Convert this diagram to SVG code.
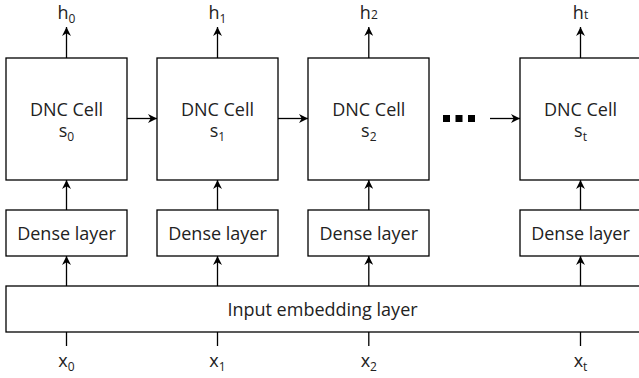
<svg xmlns="http://www.w3.org/2000/svg" width="639" height="378" viewBox="0 0 639 378">
<style>
.box{fill:#fff;stroke:#000;stroke-width:1.3}
.t{font-family:"Open Sans","Noto Sans","DejaVu Sans",sans-serif;font-size:18px;fill:#222;text-anchor:middle}
.sub{font-size:12px}
.ln{fill:none;stroke:#000;stroke-width:1.3}
</style>
<defs>
<marker id="ah" viewBox="0 0 10 10" refX="10" refY="5" markerWidth="9" markerHeight="9" markerUnits="userSpaceOnUse" orient="auto">
<path d="M0,0 L10,5 L0,10 L3,5 z" fill="#000"/>
</marker>
</defs>
<rect width="639" height="378" fill="#fff"/>
<g id="connectors">
<path class="ln" d="M66.5,58 V27" marker-end="url(#ah)"/>
<path class="ln" d="M217.5,58 V27" marker-end="url(#ah)"/>
<path class="ln" d="M368.8,58 V27" marker-end="url(#ah)"/>
<path class="ln" d="M580.5,58 V27" marker-end="url(#ah)"/>
<path class="ln" d="M66.5,210 V180" marker-end="url(#ah)"/>
<path class="ln" d="M217.5,210 V180" marker-end="url(#ah)"/>
<path class="ln" d="M368.8,210 V180" marker-end="url(#ah)"/>
<path class="ln" d="M580.5,210 V180" marker-end="url(#ah)"/>
<path class="ln" d="M66.5,286 V256" marker-end="url(#ah)"/>
<path class="ln" d="M217.5,286 V256" marker-end="url(#ah)"/>
<path class="ln" d="M368.8,286 V256" marker-end="url(#ah)"/>
<path class="ln" d="M580.5,286 V256" marker-end="url(#ah)"/>
<path class="ln" d="M127,118.5 H157"  marker-end="url(#ah)"/>
<path class="ln" d="M278,118.5 H308"  marker-end="url(#ah)"/>
<path class="ln" d="M490,118.5 H520"  marker-end="url(#ah)"/>
<path class="ln" d="M66.5,332 V346"/>
<path class="ln" d="M217.5,332 V346"/>
<path class="ln" d="M368.8,332 V346"/>
<path class="ln" d="M580.5,332 V346"/>
</g>
<g id="dots">
<rect x="443" y="115" width="7" height="7" fill="#000"/>
<rect x="455.5" y="115" width="7" height="7" fill="#000"/>
<rect x="468" y="115" width="7" height="7" fill="#000"/>
</g>
<g id="cell0"><rect class="box" x="6" y="58" width="121" height="122"/>
<text class="t" x="66.5" y="116">DNC Cell<tspan x="66.5" dy="21">s</tspan><tspan class="sub" dy="4">0</tspan></text></g>
<g id="cell1"><rect class="box" x="157" y="58" width="121" height="122"/>
<text class="t" x="217.5" y="116">DNC Cell<tspan x="217.5" dy="21">s</tspan><tspan class="sub" dy="4">1</tspan></text></g>
<g id="cell2"><rect class="box" x="308" y="58" width="121" height="122"/>
<text class="t" x="368.8" y="116">DNC Cell<tspan x="368.8" dy="21">s</tspan><tspan class="sub" dy="4">2</tspan></text></g>
<g id="cellt"><rect class="box" x="520" y="58" width="121" height="122"/>
<text class="t" x="580.5" y="116">DNC Cell<tspan x="580.5" dy="21">s</tspan><tspan class="sub" dy="4">t</tspan></text></g>
<g id="dense0"><rect class="box" x="6" y="210" width="121" height="46"/><text class="t" x="66.5" y="240">Dense layer</text></g>
<g id="dense1"><rect class="box" x="157" y="210" width="121" height="46"/><text class="t" x="217.5" y="240">Dense layer</text></g>
<g id="dense2"><rect class="box" x="308" y="210" width="121" height="46"/><text class="t" x="368.8" y="240">Dense layer</text></g>
<g id="denset"><rect class="box" x="520" y="210" width="121" height="46"/><text class="t" x="580.5" y="240">Dense layer</text></g>
<g id="embedding"><rect class="box" x="6" y="286" width="635" height="46"/><text class="t" x="322.5" y="315.5">Input embedding layer</text></g>
<g id="outputs">
<text class="t" x="66.5" y="19">h<tspan class="sub" dy="4">0</tspan></text>
<text class="t" x="217.5" y="19">h<tspan class="sub" dy="4">1</tspan></text>
<text class="t" x="368.8" y="19">h<tspan class="sub">2</tspan></text>
<text class="t" x="580.5" y="19">h<tspan class="sub">t</tspan></text>
</g>
<g id="inputs">
<text class="t" x="66.5" y="367">x<tspan class="sub" dy="4">0</tspan></text>
<text class="t" x="217.5" y="367">x<tspan class="sub" dy="4">1</tspan></text>
<text class="t" x="368.8" y="367">x<tspan class="sub" dy="4">2</tspan></text>
<text class="t" x="580.5" y="367">x<tspan class="sub" dy="4">t</tspan></text>
</g>
</svg>
